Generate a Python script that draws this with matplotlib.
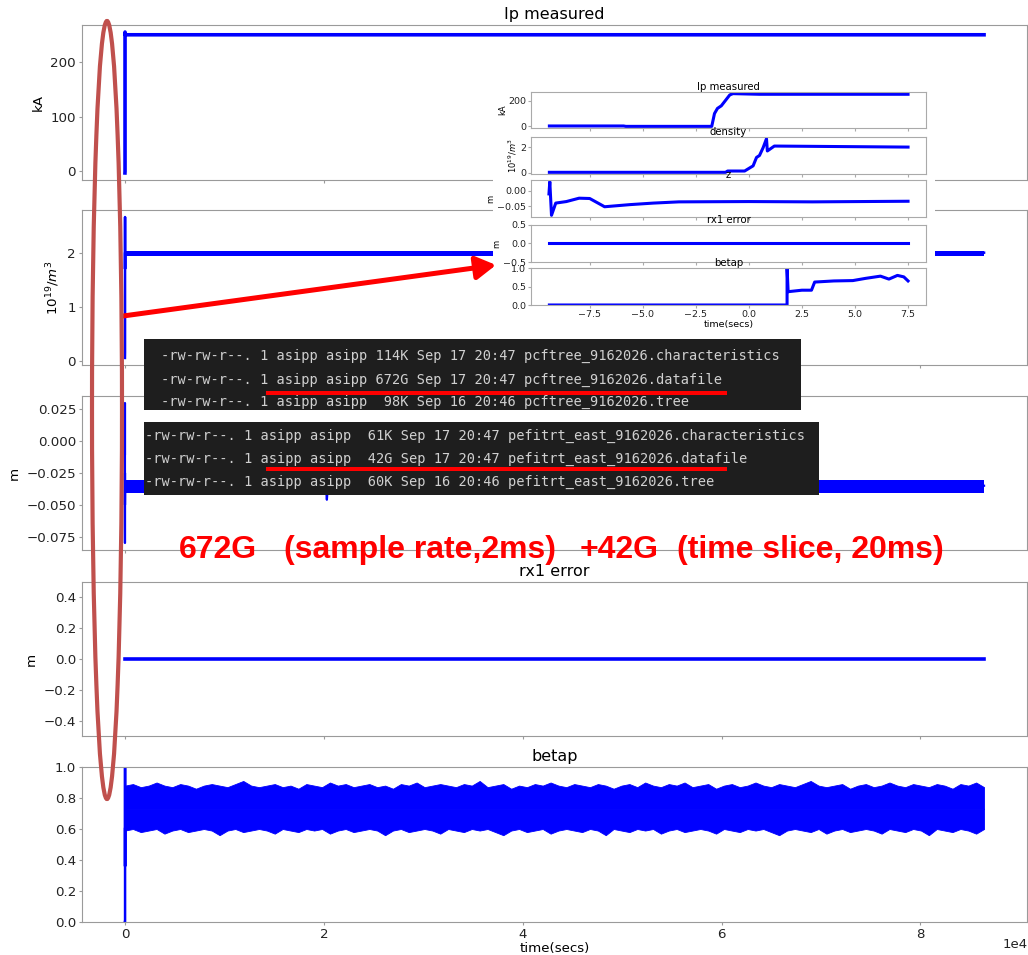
import numpy as np
import matplotlib
matplotlib.use("Agg")
import matplotlib.pyplot as plt
from matplotlib.patches import Rectangle, Ellipse, FancyArrowPatch
from matplotlib.lines import Line2D
from matplotlib.transforms import Affine2D

# ---------------- data ----------------
# main (full day) signals
ip_time = [-9.4, -1.75, -1.5, -0.8, 1.0, 86400]
ip_values = [-3, 0, 140, 255, 250, 250]

dens_time = [-9.4, -1.0, 0.2, 0.83, 0.86, 1.2, 86400]
dens_values = [0.05, 0.15, 0.55, 2.66, 1.7, 2.0, 2.0]
dens_band_time = [1.2, 86400]
dens_band_lo = [1.93, 1.93]
dens_band_hi = [2.04, 2.04]

z_time = [-9.42, -9.38, -9.3, -9.1, -7.5, -6.8, 5.0, 20200, 20300, 20400, 86400]
z_values = [-0.01, 0.03, -0.08, -0.04, -0.025, -0.05, -0.035, -0.035, -0.046, -0.035, -0.035]
z_band_time = [0, 86400]
z_band_lo = [-0.0405, -0.0405]
z_band_hi = [-0.0305, -0.0305]

rx1_time = [-9.4, 86400]
rx1_values = [0.0, 0.0]

betap_time = [-9.4, 1.8, 1.8, 1.85, 2.95]
betap_values = [0.0, 0.0, 1.0, 0.36, 0.6]
betap_upper = [0.88, 0.89, 0.87, 0.88, 0.90, 0.88, 0.87, 0.89, 0.88, 0.86,
               0.88, 0.89, 0.88, 0.87, 0.89, 0.91, 0.88, 0.87, 0.88, 0.89,
               0.87, 0.88, 0.86, 0.89, 0.88, 0.87, 0.90, 0.88, 0.89, 0.87,
               0.88, 0.89, 0.87, 0.88, 0.86, 0.89, 0.88, 0.90, 0.87, 0.88,
               0.89, 0.88, 0.87, 0.89, 0.88, 0.91, 0.87, 0.88, 0.89, 0.86,
               0.88, 0.87, 0.89, 0.88, 0.90, 0.88, 0.87, 0.89, 0.88, 0.87,
               0.89, 0.88, 0.86, 0.88, 0.89, 0.87, 0.90, 0.88, 0.87, 0.89,
               0.88, 0.90, 0.87, 0.88, 0.89, 0.86, 0.88, 0.89, 0.87, 0.88,
               0.90, 0.88, 0.87, 0.89, 0.88, 0.87, 0.89, 0.91, 0.88, 0.87,
               0.88, 0.89, 0.86, 0.88, 0.89, 0.87, 0.88, 0.90, 0.88, 0.87,
               0.89, 0.88, 0.87, 0.89, 0.88, 0.86, 0.89, 0.88, 0.90, 0.87]
betap_lower = [0.59, 0.60, 0.58, 0.59, 0.60, 0.57, 0.59, 0.60, 0.58, 0.59,
               0.60, 0.59, 0.56, 0.59, 0.60, 0.58, 0.59, 0.60, 0.59, 0.57,
               0.60, 0.59, 0.58, 0.60, 0.59, 0.60, 0.57, 0.59, 0.60, 0.58,
               0.59, 0.60, 0.59, 0.56, 0.59, 0.60, 0.58, 0.59, 0.60, 0.59,
               0.57, 0.60, 0.59, 0.58, 0.60, 0.59, 0.60, 0.58, 0.56, 0.59,
               0.60, 0.58, 0.59, 0.60, 0.57, 0.59, 0.60, 0.59, 0.58, 0.60,
               0.59, 0.56, 0.60, 0.59, 0.58, 0.60, 0.59, 0.60, 0.57, 0.59,
               0.60, 0.58, 0.59, 0.60, 0.59, 0.57, 0.60, 0.59, 0.58, 0.60,
               0.59, 0.60, 0.58, 0.56, 0.59, 0.60, 0.59, 0.58, 0.60, 0.57,
               0.59, 0.60, 0.58, 0.59, 0.60, 0.59, 0.57, 0.60, 0.59, 0.58,
               0.60, 0.59, 0.56, 0.60, 0.59, 0.58, 0.60, 0.59, 0.57, 0.60]
betap_band_start, betap_band_end = 0, 86400

# inset (one shot, -9.4 .. 7.5 s)
in_ip_time = [-9.4, -5.9, -5.8, -1.75, -1.62, -1.48, -1.3, -0.9, -0.75, 0.5, 7.5]
in_ip_values = [3, 3, 0, 0, 100, 140, 160, 245, 255, 250, 250]
in_dens_time = [-9.4, -1.1, -1.0, -0.2, 0.2, 0.36, 0.5, 0.67, 0.83, 0.87, 1.2, 7.5]
in_dens_values = [0.05, 0.05, 0.15, 0.15, 0.55, 1.2, 1.35, 1.95, 2.65, 1.7, 2.08, 2.0]
in_z_time = [-9.42, -9.38, -9.3, -9.1, -8.6, -8.0, -7.5, -6.9, -6.8, -5.6, -4.5, -3.3, 0, 3, 7.5]
in_z_values = [-0.01, 0.03, -0.08, -0.04, -0.035, -0.024, -0.025, -0.048, -0.052,
               -0.045, -0.040, -0.036, -0.035, -0.036, -0.034]
in_rx1_time = [-9.4, 7.5]
in_rx1_values = [0.0, 0.0]
in_betap_time = [-9.4, 1.8, 1.8, 1.85, 2.5, 2.95, 3.1, 4.0, 4.9, 5.5, 6.2, 6.6, 7.0, 7.3, 7.5]
in_betap_values = [0, 0, 1.0, 0.36, 0.40, 0.40, 0.62, 0.65, 0.66, 0.72, 0.78, 0.70, 0.80, 0.76, 0.65]

titles = ["Ip measured", "density", "z", "rx1 error", "betap"]
ylabels = ["kA", r"$10^{19}/m^3$", "m", "m", ""]
main_xticks = [0, 20000, 40000, 60000, 80000]
inset_xticks = [-7.5, -5.0, -2.5, 0.0, 2.5, 5.0, 7.5]

terminal1 = [
    "-rw-rw-r--. 1 asipp asipp 114K Sep 17 20:47 pcftree_9162026.characteristics",
    "-rw-rw-r--. 1 asipp asipp 672G Sep 17 20:47 pcftree_9162026.datafile",
    "-rw-rw-r--. 1 asipp asipp  98K Sep 16 20:46 pcftree_9162026.tree",
]
terminal2 = [
    "-rw-rw-r--. 1 asipp asipp  61K Sep 17 20:47 pefitrt_east_9162026.characteristics",
    "-rw-rw-r--. 1 asipp asipp  42G Sep 17 20:47 pefitrt_east_9162026.datafile",
    "-rw-rw-r--. 1 asipp asipp  60K Sep 16 20:46 pefitrt_east_9162026.tree",
]
big_text = ["672G", "(sample rate,2ms)", "+42G", "(time slice, 20ms)"]

# ---------------- figure ----------------
W, H = 1028, 955
fig = plt.figure(figsize=(W / 100, H / 100), dpi=100)
PX = Affine2D().scale(1 / W, -1 / H).translate(0, 1) + fig.transFigure
BLUE = "#0000ff"
SPINE = "#9a9a9a"


def add_ax(l, t, r, b, **kw):
    return fig.add_axes([l / W, 1 - b / H, (r - l) / W, (b - t) / H], **kw)


def style(ax, fs, spine=SPINE, tl=2.5, pad=1.8):
    for s in ax.spines.values():
        s.set_color(spine)
    ax.tick_params(colors=spine, labelcolor="#222222", labelsize=fs, length=tl, pad=pad)


# main axes
main_boxes = [(82, 25, 1027, 180), (82, 210, 1027, 365), (82, 396, 1027, 550),
              (82, 582, 1027, 736), (82, 767, 1027, 922)]
axes = []
for (l, t, r, b) in main_boxes:
    ax = add_ax(l, t, r, b, sharex=axes[0] if axes else None)
    axes.append(ax)

axes[0].plot(ip_time, ip_values, color=BLUE, lw=2.6)
axes[1].plot(dens_time, dens_values, color=BLUE, lw=1.8)
axes[1].fill_between(dens_band_time, dens_band_lo, dens_band_hi, color=BLUE, lw=0)
axes[2].plot(z_time, z_values, color=BLUE, lw=1.6)
axes[2].fill_between(z_band_time, z_band_lo, z_band_hi, color=BLUE, lw=0)
axes[3].plot(rx1_time, rx1_values, color=BLUE, lw=2.6)
axes[4].plot(betap_time, betap_values, color=BLUE, lw=1.8)
tu = np.linspace(betap_band_start, betap_band_end, len(betap_upper))
tl_ = np.linspace(betap_band_start, betap_band_end, len(betap_lower))
axes[4].fill_between(tu, betap_upper, 0.73, color=BLUE, lw=0.6, edgecolor=BLUE)
axes[4].fill_between(tl_, betap_lower, 0.73, color=BLUE, lw=0.6, edgecolor=BLUE)

axes[0].set_yticks([0, 100, 200])
axes[1].set_yticks([0, 1, 2])
axes[2].set_yticks([-0.075, -0.05, -0.025, 0.0, 0.025])
axes[3].set_ylim(-0.5, 0.5)
axes[3].set_yticks([-0.4, -0.2, 0.0, 0.2, 0.4])
axes[4].set_ylim(0, 1)

for i, ax in enumerate(axes):
    style(ax, 9.6)
    ax.set_title(titles[i], fontsize=11.5, pad=4)
    if ylabels[i]:
        ax.set_ylabel(ylabels[i], fontsize=9.6)
    if i < 4:
        ax.tick_params(labelbottom=False)
axes[4].set_xticks(main_xticks)
axes[4].ticklabel_format(axis="x", style="sci", scilimits=(0, 0))
axes[4].xaxis.get_offset_text().set_visible(False)
axes[4].set_xlabel("time(secs)", fontsize=9.6, labelpad=1)
fig.text(1015, 944, "1e4", transform=PX, fontsize=9.6, color="#222222",
         ha="center", va="center")

# inset (screenshot of a single shot)
fig.add_artist(Rectangle((493, 75), 442, 258, transform=PX, facecolor="white",
                         edgecolor="none", zorder=1))
ins_boxes = [(531, 92, 926, 128), (531, 137, 926, 174), (531, 180, 926, 217),
             (531, 225, 926, 262), (531, 268, 926, 305)]
ins = []
for (l, t, r, b) in ins_boxes:
    ax = add_ax(l, t, r, b, sharex=ins[0] if ins else None, zorder=2)
    ins.append(ax)
ins[0].plot(in_ip_time, in_ip_values, color=BLUE, lw=2.2)
ins[1].plot(in_dens_time, in_dens_values, color=BLUE, lw=2.2)
ins[2].plot(in_z_time, in_z_values, color=BLUE, lw=2.2)
ins[3].plot(in_rx1_time, in_rx1_values, color=BLUE, lw=2.2)
ins[4].plot(in_betap_time, in_betap_values, color=BLUE, lw=2.2)
ins[0].set_yticks([0, 200])
ins[1].set_yticks([0, 2])
ins[2].set_yticks([-0.05, 0.0])
ins[3].set_ylim(-0.5, 0.5)
ins[3].set_yticks([-0.5, 0.0, 0.5])
ins[4].set_ylim(0, 1)
ins[4].set_yticks([0.0, 0.5, 1.0])
for i, ax in enumerate(ins):
    style(ax, 6.8, spine="#aaaaaa", tl=2, pad=1.5)
    ax.set_title(titles[i], fontsize=7.3, pad=1.2)
    if ylabels[i]:
        ax.set_ylabel(ylabels[i], fontsize=6, labelpad=1)
    if i < 4:
        ax.tick_params(labelbottom=False)
ins[4].set_xticks(inset_xticks)
ins[4].set_xlabel("time(secs)", fontsize=6.8, labelpad=1)

# terminal screenshots
box1 = Rectangle((143.5, 339), 657.5, 71, transform=PX, facecolor="#1e1e1e",
                 edgecolor="none", zorder=3)
box2 = Rectangle((143.5, 421.7), 675.5, 73.3, transform=PX, facecolor="#1e1e1e",
                 edgecolor="none", zorder=3)
fig.add_artist(box1)
fig.add_artist(box2)
for s, y in zip(terminal1, [355.7, 380.0, 401.7]):
    t = fig.text(161, y, s, transform=PX, family="DejaVu Sans Mono", fontsize=9.8,
                 color="#d0d0d0", va="center", ha="left", zorder=4)
    t.set_clip_path(box1)
for s, y in zip(terminal2, [436.0, 458.5, 481.7]):
    t = fig.text(145, y, s, transform=PX, family="DejaVu Sans Mono", fontsize=9.8,
                 color="#d0d0d0", va="center", ha="left", zorder=4)
    t.set_clip_path(box2)
for y in (392.7, 469.3):
    fig.add_artist(Line2D([267.6, 724.5], [y, y], transform=PX, color="#ff0000",
                          lw=2.9, zorder=5))

# big red annotation
for s, x in zip(big_text, [179, 284, 580, 677]):
    fig.text(x, 558, s, transform=PX, family="Liberation Sans", weight="bold",
             fontsize=23, color="#ff0000", va="baseline", ha="left", zorder=5)

# arrow and ellipse
fig.add_artist(FancyArrowPatch((123, 316), (496, 265), transform=PX,
                               arrowstyle="-|>,head_length=12,head_width=7",
                               mutation_scale=1, color="#ff0000", lw=3.6,
                               shrinkA=0, shrinkB=0, zorder=6))
fig.add_artist(Ellipse((107, 410), 30, 778, transform=PX, fill=False,
                       edgecolor="#c0504d", lw=3, zorder=6))

fig.savefig("out.png", dpi=100)
